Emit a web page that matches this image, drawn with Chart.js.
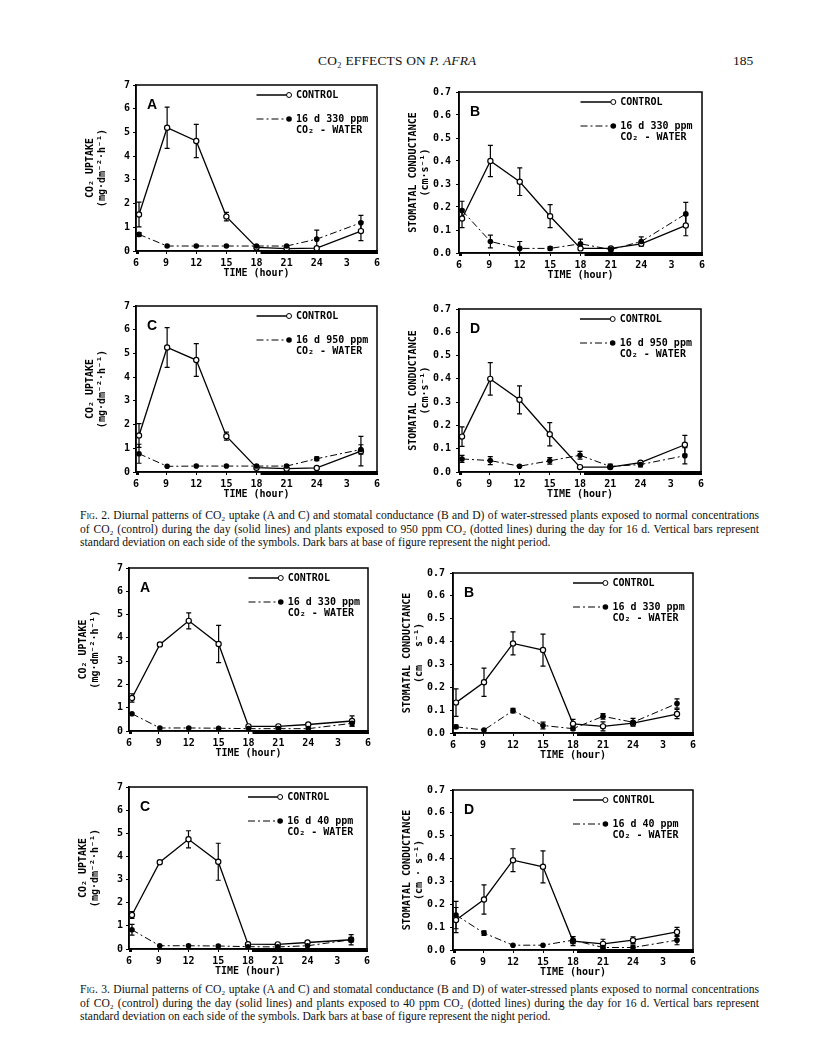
<!DOCTYPE html>
<html>
<head>
<meta charset="utf-8">
<script src="https://cdn.jsdelivr.net/npm/chart.js@4.4.1/dist/chart.umd.min.js"></script>
<style>
  body { margin: 0; background: #fff; width: 816px; height: 1062px; position: relative; overflow: hidden; font-family: 'Liberation Serif', serif; color: #111; }
  canvas { position: absolute; }
  .head { position: absolute; top: 53px; font-size: 13.4px; letter-spacing: 0.2px; }
  .pageno { position: absolute; top: 53px; left: 733px; font-size: 13.5px; }
  .caption { position: absolute; left: 80px; width: 679px; font-size: 11.6px; line-height: 13.5px; text-align: justify; }
  .sc { font-variant: small-caps; }
</style>
</head>
<body>
<div class="head" style="left:318px">CO₂ EFFECTS ON <i>P. AFRA</i></div>
<div class="pageno">185</div>

<canvas id="f2a"></canvas>
<canvas id="f2b"></canvas>
<canvas id="f2c"></canvas>
<canvas id="f2d"></canvas>
<canvas id="f3a"></canvas>
<canvas id="f3b"></canvas>
<canvas id="f3c"></canvas>
<canvas id="f3d"></canvas>

<div class="caption" style="top:509px"><span class="sc">Fig. 2.</span> Diurnal patterns of CO₂ uptake (A and C) and stomatal conductance (B and D) of water-stressed plants exposed to normal concentrations of CO₂ (control) during the day (solid lines) and plants exposed to 950 ppm CO₂ (dotted lines) during the day for 16 d. Vertical bars represent standard deviation on each side of the symbols. Dark bars at base of figure represent the night period.</div>
<div class="caption" style="top:983px"><span class="sc">Fig. 3.</span> Diurnal patterns of CO₂ uptake (A and C) and stomatal conductance (B and D) of water-stressed plants exposed to normal concentrations of CO₂ (control) during the day (solid lines) and plants exposed to 40 ppm CO₂ (dotted lines) during the day for 16 d. Vertical bars represent standard deviation on each side of the symbols. Dark bars at base of figure represent the night period.</div>

<script>
// sampling times (hour of day, 24+ = next morning)
const hours = [6.3, 9.1, 12, 15, 18, 21, 24, 28.4];
const hourTicks = [6, 9, 12, 15, 18, 21, 24, 27, 30];
const hourLabels = ['6', '9', '12', '15', '18', '21', '24', '3', '6'];
const nightBars = [[6, 6.3], [18.4, 30]];

const uptakeTicks = [0, 1, 2, 3, 4, 5, 6, 7];
const condTicks = [0, 0.1, 0.2, 0.3, 0.4, 0.5, 0.6, 0.7];

// Fig. 2 A - CO2 uptake, 330 ppm
const fig2aControl = [1.54, 5.2, 4.64, 1.45, 0.15, 0.1, 0.12, 0.84];
const fig2aControlSd = [0.52, 0.87, 0.7, 0.18, 0, 0, 0.05, 0.4];
const fig2aTreat = [0.7, 0.21, 0.21, 0.21, 0.21, 0.21, 0.5, 1.19];
const fig2aTreatSd = [0.08, 0, 0, 0, 0, 0, 0.38, 0.31];
// Fig. 2 B - conductance, 330 ppm
const fig2bControl = [0.15, 0.4, 0.31, 0.16, 0.02, 0.02, 0.04, 0.12];
const fig2bControlSd = [0.04, 0.068, 0.06, 0.05, 0, 0, 0, 0.045];
const fig2bTreat = [0.185, 0.05, 0.02, 0.02, 0.04, 0.015, 0.05, 0.17];
const fig2bTreatSd = [0.04, 0.028, 0.03, 0.008, 0.02, 0.008, 0.02, 0.05];
// Fig. 2 C - CO2 uptake, 950 ppm
const fig2cControl = [1.54, 5.25, 4.72, 1.51, 0.18, 0.14, 0.17, 0.88];
const fig2cControlSd = [0.5, 0.84, 0.69, 0.17, 0, 0, 0, 0.62];
const fig2cTreat = [0.77, 0.24, 0.25, 0.25, 0.25, 0.25, 0.56, 0.95];
const fig2cTreatSd = [0.4, 0, 0, 0, 0.05, 0.05, 0.08, 0.2];
// Fig. 2 D - conductance, 950 ppm
const fig2dControl = [0.152, 0.4, 0.31, 0.162, 0.021, 0.021, 0.04, 0.117];
const fig2dControlSd = [0.042, 0.07, 0.06, 0.05, 0, 0, 0, 0.04];
const fig2dTreat = [0.056, 0.049, 0.025, 0.048, 0.072, 0.024, 0.032, 0.07];
const fig2dTreatSd = [0.015, 0.017, 0, 0.014, 0.017, 0.01, 0.01, 0.035];
// Fig. 3 A - CO2 uptake, 330 ppm
const fig3aControl = [1.42, 3.72, 4.73, 3.74, 0.2, 0.2, 0.28, 0.43];
const fig3aControlSd = [0.18, 0.05, 0.34, 0.8, 0, 0, 0, 0.22];
const fig3aTreat = [0.74, 0.13, 0.13, 0.12, 0.1, 0.1, 0.1, 0.33];
const fig3aTreatSd = [0, 0, 0, 0, 0, 0, 0, 0.12];
// Fig. 3 B - conductance, 330 ppm
const fig3bControl = [0.133, 0.222, 0.392, 0.363, 0.04, 0.029, 0.043, 0.083];
const fig3bControlSd = [0.06, 0.062, 0.05, 0.07, 0.02, 0.02, 0, 0.02];
const fig3bTreat = [0.027, 0.013, 0.098, 0.033, 0.019, 0.073, 0.047, 0.129];
const fig3bTreatSd = [0.008, 0, 0.01, 0.015, 0.008, 0.012, 0.017, 0.02];
// Fig. 3 C - CO2 uptake, 40 ppm
const fig3cControl = [1.47, 3.75, 4.74, 3.77, 0.21, 0.2, 0.28, 0.4];
const fig3cControlSd = [0.15, 0.05, 0.37, 0.8, 0, 0, 0, 0.22];
const fig3cTreat = [0.83, 0.14, 0.14, 0.13, 0.1, 0.09, 0.14, 0.4];
const fig3cTreatSd = [0.23, 0, 0, 0, 0, 0, 0, 0.1];
// Fig. 3 D - conductance, 40 ppm
const fig3dControl = [0.131, 0.221, 0.393, 0.364, 0.039, 0.027, 0.043, 0.079];
const fig3dControlSd = [0.055, 0.064, 0.05, 0.07, 0.02, 0.02, 0.015, 0.02];
const fig3dTreat = [0.153, 0.074, 0.021, 0.021, 0.043, 0.011, 0.011, 0.043];
const fig3dTreatSd = [0.06, 0.01, 0, 0, 0.015, 0.008, 0.01, 0.02];

const PAD = 8, YW = 52, XH = 30;
const MONO = "'DejaVu Sans Mono', monospace";
const axisFont = { family: MONO, size: 10, weight: 'bold' };

// vertical SD bars, drawn under the symbols
const errorBars = {
    id: 'errorBars',
    beforeDatasetsDraw(chart) {
        const ctx = chart.ctx, ys = chart.scales.y;
        chart.data.datasets.forEach((ds, di) => {
            const meta = chart.getDatasetMeta(di);
            ctx.save();
            ctx.strokeStyle = '#000';
            ctx.lineWidth = 1.2;
            meta.data.forEach((pt, i) => {
                const e = ds.sd[i];
                if (!e) return;
                const v = ds.data[i].y;
                const y0 = ys.getPixelForValue(Math.max(v - e, 0));
                const y1 = ys.getPixelForValue(v + e);
                ctx.beginPath();
                ctx.moveTo(pt.x, y0); ctx.lineTo(pt.x, y1);
                ctx.moveTo(pt.x - 2.5, y0); ctx.lineTo(pt.x + 2.5, y0);
                ctx.moveTo(pt.x - 2.5, y1); ctx.lineTo(pt.x + 2.5, y1);
                ctx.stroke();
            });
            ctx.restore();
        });
    }
};

// frame, night bars, panel letter and the inset key
const panelDecor = {
    id: 'panelDecor',
    afterDraw(chart, args, opts) {
        const ctx = chart.ctx, a = chart.chartArea, xs = chart.scales.x;
        const W = a.right - a.left;
        ctx.save();
        ctx.strokeStyle = '#000';
        ctx.lineWidth = 1.5;
        ctx.strokeRect(a.left, a.top, W, a.bottom - a.top);

        ctx.fillStyle = '#000';
        nightBars.forEach(([s, e]) => {
            const x0 = xs.getPixelForValue(s), x1 = xs.getPixelForValue(e);
            ctx.fillRect(x0, a.bottom - 1, x1 - x0, 4);
        });

        ctx.font = "bold 14px 'Liberation Sans', Arial, sans-serif";
        ctx.textBaseline = 'middle';
        ctx.fillText(opts.letter, a.left + 11, a.top + 20);

        const lx0 = a.left + 0.5 * W, lx1 = a.left + 0.635 * W;
        const r1 = a.top + 10, r2 = a.top + 34, r3 = a.top + 45;
        ctx.lineWidth = 1.3;
        ctx.beginPath(); ctx.moveTo(lx0, r1); ctx.lineTo(lx1, r1); ctx.stroke();
        ctx.lineWidth = 1;
        ctx.setLineDash([7, 3, 2, 3]);
        ctx.beginPath(); ctx.moveTo(lx0, r2); ctx.lineTo(lx1, r2); ctx.stroke();
        ctx.setLineDash([]);
        ctx.fillStyle = '#fff';
        ctx.beginPath(); ctx.arc(lx1, r1, 2.5, 0, Math.PI * 2); ctx.fill(); ctx.stroke();
        ctx.fillStyle = '#000';
        ctx.beginPath(); ctx.arc(lx1, r2, 2.8, 0, Math.PI * 2); ctx.fill();
        ctx.font = `bold 10px ${MONO}`;
        ctx.fillText('CONTROL', lx1 + 7, r1);
        ctx.fillText(opts.dose, lx1 + 7, r2);
        ctx.fillText('CO₂ - WATER', lx1 + 7, r3);
        ctx.restore();
    }
};

const pts = vals => hours.map((h, i) => ({ x: h, y: vals[i] }));

function makePanel(id, box, kind, letter, dose, ctrl, ctrlSd, trt, trtSd, condUnit) {
    const cv = document.getElementById(id);
    cv.width = YW + (box.r - box.l) + PAD;
    cv.height = PAD + (box.b - box.t) + XH;
    cv.style.left = (box.l - YW) + 'px';
    cv.style.top = (box.t - PAD) + 'px';

    const uptake = kind === 'uptake';
    const yTicks = uptake ? uptakeTicks : condTicks;
    const yTitle = uptake
        ? ['CO₂ UPTAKE', '(mg·dm⁻²·h⁻¹)']
        : ['STOMATAL CONDUCTANCE', condUnit];

    return new Chart(cv, {
        type: 'line',
        data: {
            datasets: [{
                label: dose,
                data: pts(trt),
                sd: trtSd,
                borderColor: '#000',
                borderWidth: 1,
                borderDash: [7, 3, 2, 3],
                pointRadius: 2.8,
                pointBackgroundColor: '#000',
                pointBorderColor: '#000',
                pointBorderWidth: 0
            }, {
                label: 'CONTROL',
                data: pts(ctrl),
                sd: ctrlSd,
                borderColor: '#000',
                borderWidth: 1.3,
                pointRadius: 2.6,
                pointBackgroundColor: '#fff',
                pointBorderColor: '#000',
                pointBorderWidth: 1.2
            }]
        },
        options: {
            responsive: false,
            animation: false,
            devicePixelRatio: 1,
            layout: { padding: { top: PAD, right: PAD, left: 0, bottom: 0 } },
            plugins: {
                legend: { display: false },
                tooltip: { enabled: false },
                panelDecor: { letter: letter, dose: dose }
            },
            scales: {
                x: {
                    type: 'linear',
                    min: 6,
                    max: 30,
                    afterFit: s => { s.height = XH; },
                    afterBuildTicks: s => { s.ticks = hourTicks.map(v => ({ value: v })); },
                    ticks: {
                        callback: (v, i) => hourLabels[i],
                        font: axisFont,
                        color: '#000',
                        padding: 3,
                        maxRotation: 0,
                        autoSkip: false
                    },
                    grid: { drawOnChartArea: false, tickLength: 3, color: '#000' },
                    border: { color: '#000', width: 1.5 },
                    title: { display: true, text: 'TIME (hour)', font: axisFont, color: '#000', padding: { top: 0, bottom: 2 } }
                },
                y: {
                    min: 0,
                    max: yTicks[yTicks.length - 1],
                    afterFit: s => { s.width = YW; },
                    afterBuildTicks: s => { s.ticks = yTicks.map(v => ({ value: v })); },
                    ticks: {
                        callback: v => uptake ? String(v) : v.toFixed(1),
                        font: axisFont,
                        color: '#000',
                        padding: uptake ? 3 : 5
                    },
                    grid: { drawOnChartArea: false, tickLength: 3, color: '#000' },
                    border: { color: '#000', width: 1.5 },
                    title: { display: true, text: yTitle, font: axisFont, color: '#000', padding: { top: 0, bottom: 2 } }
                }
            }
        },
        plugins: [errorBars, panelDecor]
    });
}

makePanel('f2a', { l: 136, t: 84, r: 377, b: 251 }, 'uptake', 'A', '16 d 330 ppm',
    fig2aControl, fig2aControlSd, fig2aTreat, fig2aTreatSd);
makePanel('f2b', { l: 459, t: 89, r: 702, b: 253 }, 'cond', 'B', '16 d 330 ppm',
    fig2bControl, fig2bControlSd, fig2bTreat, fig2bTreatSd, '(cm·s⁻¹)');
makePanel('f2c', { l: 136, t: 305, r: 377, b: 472 }, 'uptake', 'C', '16 d 950 ppm',
    fig2cControl, fig2cControlSd, fig2cTreat, fig2cTreatSd);
makePanel('f2d', { l: 459, t: 306, r: 701, b: 472 }, 'cond', 'D', '16 d 950 ppm',
    fig2dControl, fig2dControlSd, fig2dTreat, fig2dTreatSd, '(cm·s⁻¹)');
makePanel('f3a', { l: 129, t: 567, r: 368, b: 731 }, 'uptake', 'A', '16 d 330 ppm',
    fig3aControl, fig3aControlSd, fig3aTreat, fig3aTreatSd);
makePanel('f3b', { l: 453, t: 570, r: 693, b: 733 }, 'cond', 'B', '16 d 330 ppm',
    fig3bControl, fig3bControlSd, fig3bTreat, fig3bTreatSd, '(cm   s⁻¹)');
makePanel('f3c', { l: 129, t: 786, r: 367, b: 949 }, 'uptake', 'C', '16 d 40 ppm',
    fig3cControl, fig3cControlSd, fig3cTreat, fig3cTreatSd);
makePanel('f3d', { l: 453, t: 787, r: 693, b: 950 }, 'cond', 'D', '16 d 40 ppm',
    fig3dControl, fig3dControlSd, fig3dTreat, fig3dTreatSd, '(cm · s⁻¹)');
</script>
</body>
</html>
